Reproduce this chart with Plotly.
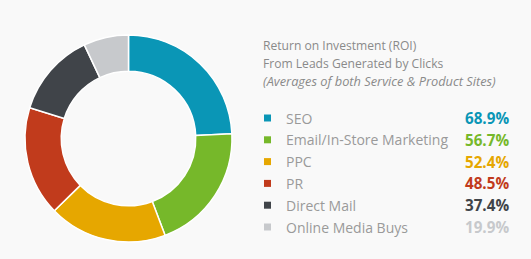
import plotly.graph_objects as go

categories = ["SEO", "Email/In-Store Marketing", "PPC", "PR", "Direct Mail", "Online Media Buys"]
values = [68.9, 56.7, 52.4, 48.5, 37.4, 19.9]
value_labels = ["68.9%", "56.7%", "52.4%", "48.5%", "37.4%", "19.9%"]
colors = ["#0a96b6", "#76b82a", "#e6a700", "#c13b1c", "#404449", "#c7c9cc"]
title_lines = ["Return on Investment (ROI)", "From Leads Generated by Clicks",
               "<i>(Averages of both Service & Product Sites)</i>"]

W, H = 531, 259
BG = "#f9f9f9"
FONT = "Open Sans"

fig = go.Figure()
fig.add_trace(go.Pie(
    labels=categories, values=values, sort=False, direction="clockwise", rotation=0,
    hole=0.65, marker=dict(colors=colors, line=dict(color="#ffffff", width=1.5)),
    textinfo="none", hoverinfo="label+value", showlegend=False,
    domain=dict(x=[25 / W, 232 / W], y=[1 - 242 / H, 1 - 35 / H]),
))

annotations = []
shapes = []
title_y = [46, 64, 81]
title_sizes = [12.1, 12.1, 12.8]
for t, yy, fs in zip(title_lines, title_y, title_sizes):
    annotations.append(dict(text=t, x=261 / W, y=1 - yy / H, xref="paper", yref="paper",
                            xanchor="left", yanchor="middle", showarrow=False,
                            font=dict(family=FONT, size=fs, color="#8a8a8a")))

row_y0, row_dy = 118, 21.8
for i, (cat, lab, col) in enumerate(zip(categories, value_labels, colors)):
    yy = row_y0 + i * row_dy
    shapes.append(dict(type="rect", xref="paper", yref="paper",
                       x0=264 / W, x1=271 / W, y0=1 - (yy - 3.5) / H, y1=1 - (yy + 3.5) / H,
                       fillcolor=col, line=dict(width=0)))
    annotations.append(dict(text=cat, x=284 / W, y=1 - yy / H, xref="paper", yref="paper",
                            xanchor="left", yanchor="middle", showarrow=False,
                            font=dict(family=FONT, size=14, color="#9a9a9a")))
    annotations.append(dict(text="<b>" + lab + "</b>", x=511 / W, y=1 - yy / H, xref="paper", yref="paper",
                            xanchor="right", yanchor="middle", showarrow=False,
                            font=dict(family=FONT, size=15.2, color=col)))

fig.update_layout(width=W, height=H, margin=dict(l=0, r=0, t=0, b=0),
                  paper_bgcolor=BG, plot_bgcolor=BG,
                  annotations=annotations, shapes=shapes)
fig.write_html("out.html", config={"displayModeBar": False})
